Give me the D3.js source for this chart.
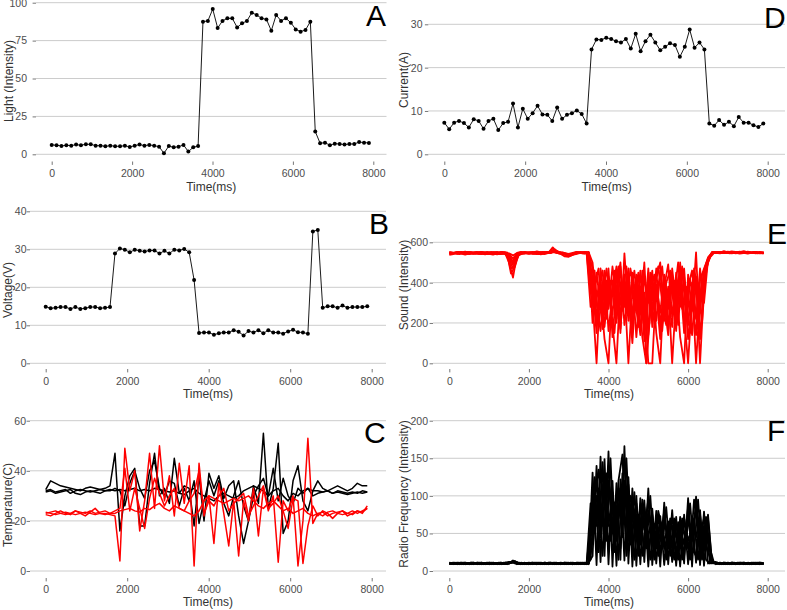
<!DOCTYPE html>
<html><head><meta charset="utf-8">
<script src="https://cdn.jsdelivr.net/npm/d3@7"></script>
<style>body{margin:0;background:#fff}svg{display:block}</style>
</head><body><svg id="c" width="787" height="610"></svg>
<script>
// ---------- DATA ----------
const timeMs = [0,121,243,364,486,607,728,850,971,1093,1214,1335,1457,1578,1700,1821,1942,2064,2185,2307,2428,2549,2671,2792,2914,3035,3156,3278,3399,3521,3642,3763,3885,4006,4128,4249,4370,4492,4613,4735,4856,4977,5099,5220,5342,5463,5584,5706,5827,5949,6070,6191,6313,6434,6556,6677,6798,6920,7041,7163,7284,7405,7527,7648,7770,7891];
const timeFine = [0,100,200,300,400,500,600,700,800,900,1000,1100,1200,1300,1400,1500,1600,1700,1800,1900,2000,2100,2200,2300,2400,2500,2600,2700,2800,2900,3000,3100,3200,3300,3400,3500,3600,3700,3800,3900,4000,4100,4200,4300,4400,4500,4600,4700,4800,4900,5000,5100,5200,5300,5400,5500,5600,5700,5800,5900,6000,6100,6200,6300,6400,6500,6600,6700,6800,6900,7000,7100,7200,7300,7400,7500,7600,7700,7800,7900];
const timeFineB = [50,150,250,350,450,550,650,750,850,950,1050,1150,1250,1350,1450,1550,1650,1750,1850,1950,2050,2150,2250,2350,2450,2550,2650,2750,2850,2950,3050,3150,3250,3350,3450,3550,3650,3750,3850,3950,4050,4150,4250,4350,4450,4550,4650,4750,4850,4950,5050,5150,5250,5350,5450,5550,5650,5750,5850,5950,6050,6150,6250,6350,6450,6550,6650,6750,6850,6950,7050,7150,7250,7350,7450,7550,7650,7750,7850];

const lightA = [6.2,6,5.5,6,5.7,6.4,6,6.6,6.6,5.7,5.7,5.3,5.7,5.3,5.3,5.7,4.8,5.7,6.4,5.7,6.2,5.7,5,0.7,5.5,4.6,5,6.2,1.8,4.6,5.5,87.5,88,95.8,83.3,88,89.7,89.7,83.7,86.4,88,93.4,91.9,89.7,89,81.5,91.9,88,89.7,86.8,82.4,80.9,82,87.5,15,7.3,7.7,6,7,6.8,6.4,6.8,6.8,8.1,7.7,7.5];
const voltageB = [14.9,14.5,14.6,14.8,14.8,14.3,14.8,14.3,14.5,14.8,14.8,14.5,14.6,14.8,28.9,30.2,29.9,29.2,29.9,29.6,29.4,29.7,29.7,28.9,29.6,28.9,29.9,29.7,30.1,29.2,21.9,8.0,8.1,8.1,7.5,7.9,8.1,8.1,8.7,8.3,7.3,8.5,8.1,8.7,7.9,8.7,8.1,8.1,7.8,8.4,8.8,8.2,8.1,7.8,34.7,35.1,14.6,15,15,14.6,15.2,14.6,14.8,14.8,14.8,15];
const currentD = [7.3,5.8,7.3,7.7,7.2,6.2,8.1,7.7,5.9,7.7,8.2,5.6,7.2,7.5,11.7,6.2,10.5,8.2,9.5,11.2,9.2,9.1,7.7,10.8,8.2,9.1,9.5,10.1,9.3,7.1,24.2,26.5,26.4,26.9,26.6,26.1,25.8,26.6,24.4,27.8,23.8,26.1,27.6,25.8,24,24.8,25.6,25.2,22.5,24.8,28.8,24.6,25.8,24.2,7.1,6.6,7.9,6.8,7.5,6.5,8.6,7.3,7.3,6.7,6.3,7.1];

const tempBlack1 = [32,32.5,31.5,32,32.5,31,32,32.5,32,31.5,32,32.5,32,32.5,32,32.5,32,32.5,33,32,32.5,32,33,32.5,32,31.5,32,31,30.5,32,33,31,30,29,28,30,31,30,29,30,32,33,34,33,32,30,32,33,30,28,31,30,32,33,32,32,31.5,32,31,32,31.5,31,31.5,31,32,31.5];
const tempBlack2 = [32.5,36,35,34,33.5,33,32.5,32,33,33.5,33,32.5,33,34,47,16,30,38,41,18,18,35,47,30,33,27,45,31,34,33,18,38,20,39,33,38,29,34,36,22,11,20,34,27,55,25,33,51,15,20,36,42,28,24,32,36,33,32,33,34,33,32,33,35,34,34];
const tempBlack3 = [31.5,32,31,31.5,32,32.5,31,30.5,31.5,32,31.5,31,32,32,33,32,26,35,40,33,29,40,44,33,30,36,35,26,33,28,36,19,28,36,30,36,27,22,30,36,26,20,30,34,37,30,41,28,37,30,27,33,31,33,30,31,31.5,32,31,31.5,31,30.5,31,31.5,31,31.5];
const tempRed1 = [23.5,23,22.5,23,23.5,23,22.5,23,23.5,23,22.5,23,23,22.5,22,4,49,32,40,16,28,47,25,50,28,38,22,43,27,42,2,43,22,30,11,35,23,10,28,6,28,20,33,14,33,24,30,3.5,28,24,30,2,20,53,19,23,23.5,22,23,23.5,24,23,22.5,24,23.5,25];
const tempRed2 = [23,23.5,24,23,22.5,23,24,23.5,23,24,23,23.5,24,23,23,24,24.5,25,24,23.5,25,24.5,26,27,25,24,26,25,24,23,22,24,28,30,29,28,27,28,29,28,29,30,28,26,25,27,28,26,24,25,23,24,25,23,22,23,22,23.5,24,23,22.5,23,24,23,24,25];
const tempRed3 = [22.5,22,23,24,23,22.5,24,23,22,23.5,25,23,22.5,23,24,25,41,24,33,25,17,29,37,31,26,30,33,25,24,28,31,40,23,28,26,30,33,24,27,29,31,22,26,30,34,25,27,30,24,17,29,28,3,18,26,22,24,23,21,23,24,22,23,24,23,26];

const sound1 = [545,548,543,550,546,541,547,552,545,540,546,549,544,542,547,500,425,538,545,550,546,543,548,551,547,553,558,549,545,541,538,544,550,547,545,552,310,0,420,180,390,240,460,150,545,260,410,130,380,220,470,180,350,120,430,270,390,160,500,240,0,330,140,410,470,520,548,552,549,556,550,547,553,549,551,546,548,552,545,547];
const sound2 = [538,542,547,544,539,545,550,546,541,548,543,539,545,550,546,520,470,530,541,546,549,552,545,540,547,550,575,552,546,543,535,540,546,549,544,547,470,230,350,120,0,410,200,480,280,440,170,400,250,500,140,380,210,460,300,140,440,220,380,470,190,400,0,330,450,510,545,549,553,547,551,555,548,544,550,553,547,551,549,544];
const sound3 = [550,546,552,548,544,549,543,547,553,549,545,551,547,543,549,535,505,545,550,547,543,549,553,548,544,549,556,547,543,530,528,545,551,547,550,546,200,450,280,460,160,350,480,230,390,0,360,250,460,110,420,260,470,180,380,490,230,410,130,0,440,260,550,120,420,500,550,546,552,548,553,549,545,551,556,550,546,549,552,548];
const sound4 = [542,547,551,545,549,553,548,544,550,546,542,548,552,546,541,530,490,535,548,544,550,546,541,547,552,548,560,553,549,545,540,537,543,548,552,549,380,150,470,300,430,190,0,400,320,470,210,440,160,350,0,0,390,250,440,170,470,290,420,150,380,460,220,470,300,515,547,551,547,553,549,545,550,554,548,552,547,550,546,551];
const sound5 = [547,543,549,553,547,542,546,551,547,543,549,545,540,546,551,540,520,543,549,553,547,544,550,546,542,548,551,547,542,538,533,541,547,552,548,551,500,300,160,410,270,480,330,170,440,210,450,310,140,430,300,460,150,0,420,330,180,450,280,430,120,290,430,0,380,505,552,548,545,550,554,549,546,552,548,544,549,553,547,550];
const sound6 = [552,549,545,550,554,548,544,549,553,550,546,542,548,553,549,545,535,547,552,548,544,549,555,550,546,551,562,556,550,546,543,548,553,549,546,550,420,190,400,240,470,130,370,500,190,350,100,420,300,180,400,230,420,500,210,380,0,340,470,200,360,140,410,250,460,525,549,553,550,546,551,548,552,547,550,554,549,545,550,547];
const sound7 = [544,549,553,547,542,548,551,546,543,549,552,547,541,546,550,470,490,541,547,551,548,543,549,552,546,550,565,551,544,539,536,542,548,551,546,350,460,200,330,470,280,150,430,350,480,210,320,450,130,0,340,440,280,160,400,460,260,330,480,210,420,300,170,440,480,530,550,547,552,549,545,551,548,553,549,546,550,548,546];
const sound8 = [549,545,541,548,553,546,543,550,547,541,546,551,548,543,547,445,480,546,550,545,549,553,547,543,550,546,557,548,550,541,532,546,550,545,549,280,390,470,170,410,300,460,220,390,250,470,360,180,460,0,250,380,480,300,190,420,330,500,270,380,240,460,380,200,470,525,547,551,548,553,550,546,550,552,547,551,549,545,549];
const sound9 = [541,547,550,544,548,552,545,541,547,552,548,543,549,552,545,510,500,540,544,548,551,546,542,548,553,549,561,550,547,542,537,543,547,549,551,430,250,380,460,220,410,360,480,260,400,330,460,250,410,190,450,300,390,480,240,350,410,190,460,330,150,470,260,380,490,535,552,548,551,547,550,554,549,545,551,548,552,547,550];

const radio1 = [10,9,10,11,10,9,10,10,11,10,9,10,10,11,10,11,13,11,10,10,9,10,11,10,10,9,10,10,11,10,9,10,10,11,10,9,131,8,152,20,159,6,117,15,166,10,110,7,97,12,110,8,80,6,91,9,81,7,72,10,97,6,99,8,79,10,12,11,10,10,11,10,9,10,11,10,10,9,10,10];
const radio2 = [9,10,11,10,9,10,11,10,9,10,11,10,9,10,11,12,12,10,9,10,11,10,9,10,11,10,9,10,10,11,10,9,11,10,10,11,20,140,12,149,9,120,7,122,14,125,6,100,9,94,6,83,10,73,8,66,12,72,6,75,9,68,11,81,7,75,11,12,10,11,10,9,10,11,10,9,10,11,10,9];
const radio3 = [11,10,9,10,11,10,9,11,10,10,9,11,10,9,10,10,14,11,10,9,10,11,10,9,10,11,10,9,10,11,10,10,9,10,11,10,110,60,130,90,140,50,100,70,150,60,95,40,85,55,95,35,70,40,80,30,70,45,60,35,85,40,90,50,70,45,13,10,11,10,9,11,10,10,11,10,9,10,11,10];
const radio4 = [10,11,10,9,10,10,11,10,9,10,10,11,9,10,10,11,12,10,10,11,9,10,10,11,10,9,11,10,10,9,10,11,10,9,10,10,70,120,45,130,60,105,40,110,80,115,50,90,35,85,45,75,30,65,40,60,35,65,30,70,40,60,45,75,30,70,11,10,10,9,10,11,10,9,10,10,11,10,9,10];
const radio5 = [9,10,10,11,9,10,10,9,11,10,10,9,10,11,9,10,11,9,11,10,10,9,10,10,9,11,10,10,9,10,11,9,10,10,9,10,40,100,90,60,120,80,60,95,120,40,85,60,70,30,80,55,50,60,30,50,60,25,55,50,30,55,80,25,60,40,12,9,10,11,10,10,9,11,10,10,9,10,11,10];
const radio6 = [10,10,9,10,11,9,10,11,10,9,11,10,10,9,11,10,13,10,9,10,10,11,9,10,11,10,10,11,9,10,10,9,11,10,10,11,90,30,60,115,30,95,85,30,100,95,30,75,50,70,25,65,60,25,70,45,20,60,45,20,70,30,20,65,50,25,10,11,9,10,10,11,10,10,9,11,10,10,9,10];
const radio7 = [10,11,9,10,10,11,10,9,10,11,10,10,9,11,10,12,13,10,10,9,11,10,10,9,10,11,10,9,10,10,11,10,9,10,10,60,125,25,145,40,150,30,110,45,150,35,105,25,90,30,100,20,75,30,85,20,70,25,65,40,90,25,95,20,72,30,11,10,10,11,9,10,10,11,10,9,10,10,11];
const radio8 = [9,10,10,11,10,9,10,11,10,10,9,10,11,10,9,11,12,10,9,10,10,11,10,10,9,10,11,10,10,9,10,10,11,10,9,15,100,135,60,130,90,25,120,155,30,100,80,20,95,60,70,15,80,55,20,70,40,15,70,55,20,95,60,15,60,12,10,11,9,10,10,11,10,10,9,10,11,10,10];
const radio9 = [10,10,11,9,10,11,10,10,9,10,11,10,10,9,10,11,13,11,10,10,9,10,11,10,10,11,9,10,10,11,10,9,10,11,10,90,50,110,20,100,40,90,15,130,20,85,15,75,20,70,15,60,20,65,15,55,15,65,15,50,15,70,15,60,15,10,11,10,10,9,10,10,11,10,10,9,10,11,10];

const xTicks = [0, 2000, 4000, 6000, 8000];
const xTitle = "Time(ms)";

// ---------- PANELS ----------
const soundSeries = [[timeFine,sound1],[timeFine,sound2],[timeFine,sound3],[timeFine,sound4],[timeFine,sound5],[timeFine,sound6],[timeFineB,sound7],[timeFineB,sound8],[timeFineB,sound9]];
const radioSeries = [[timeFine,radio1],[timeFine,radio2],[timeFine,radio3],[timeFine,radio4],[timeFine,radio5],[timeFine,radio6],[timeFineB,radio7],[timeFineB,radio8],[timeFineB,radio9]];

const panels = [
  {letter:"A", yLabel:"Light (Intensity)", yTicks:[0,25,50,75,100], kind:"dots",
   series:[{t:timeMs, v:lightA, c:"#000"}],
   L:{x:[51.7,373.3], y:[154.3,2.7], grid:[36,386.5], labEnd:27, axisY:161.5, labB:176.5, titB:191, yT:[9,81], let:[366,26]}},
  {letter:"B", yLabel:"Voltage(V)", yTicks:[0,10,20,30,40], kind:"dots",
   series:[{t:timeMs, v:voltageB, c:"#000"}],
   L:{x:[45.7,371.7], y:[363.3,211.3], grid:[30,386], labEnd:26.5, axisY:369, labB:385, titB:397.5, yT:[8,290], let:[369,234]}},
  {letter:"C", yLabel:"Temperature(C)", yTicks:[0,20,40,60], kind:"lines", sw:1.5,
   series:[{t:timeMs,v:tempBlack1,c:"#000"},{t:timeMs,v:tempBlack2,c:"#000"},{t:timeMs,v:tempBlack3,c:"#000"},
           {t:timeMs,v:tempRed1,c:"#ff0000"},{t:timeMs,v:tempRed2,c:"#ff0000"},{t:timeMs,v:tempRed3,c:"#ff0000"}],
   L:{x:[45.7,371.7], y:[571,420.7], grid:[30,386], labEnd:26, axisY:578, labB:593, titB:605.5, yT:[8,505], let:[364,443]}},
  {letter:"D", yLabel:"Current(A)", yTicks:[0,10,20,30], kind:"dots",
   series:[{t:timeMs, v:currentD, c:"#000"}],
   L:{x:[444.3,767.7], y:[154.3,24.3], grid:[428.3,785], labEnd:422.5, axisY:161.5, labB:176.5, titB:191, yT:[403.5,80], let:[764,28]}},
  {letter:"E", yLabel:"Sound (Intensity)", yTicks:[0,200,400,600], kind:"lines", sw:1.8,
   series:soundSeries.map(s=>({t:s[0], v:s[1], c:"#ff0000"})),
   L:{x:[449.3,767.7], y:[363.3,242.3], grid:[433,785], labEnd:428, axisY:369, labB:385, titB:397.5, yT:[403.5,285], let:[767,244]}},
  {letter:"F", yLabel:"Radio Frequency (Intensity)", yTicks:[0,50,100,150,200], kind:"lines", sw:1.8,
   series:radioSeries.map(s=>({t:s[0], v:s[1], c:"#000"})),
   L:{x:[449.3,767.7], y:[571,420.7], grid:[433,785], labEnd:428, axisY:578, labB:593, titB:605.5, yT:[403.5,494], let:[767,441]}}
];

const FONT = "'Liberation Sans', Arial, Helvetica, sans-serif";
const svg = d3.select("#c");

panels.forEach(p => {
  const L = p.L;
  const xs = d3.scaleLinear().domain([0, 8000]).range(L.x);
  const ys = d3.scaleLinear().domain([0, p.yTicks[p.yTicks.length-1]]).range(L.y);
  const g = svg.append("g");

  // grid lines
  g.append("g").selectAll("line").data(p.yTicks).join("line")
    .attr("x1", L.grid[0]).attr("x2", L.grid[1])
    .attr("y1", d => ys(d)).attr("y2", d => ys(d))
    .attr("stroke", "#cccccc").attr("stroke-width", 1);

  // y axis
  const tickLen = 3.4;
  const ya = g.append("g").attr("transform", `translate(${L.grid[0]},0)`)
    .call(d3.axisLeft(ys).tickValues(p.yTicks).tickSize(tickLen).tickPadding(L.grid[0] - L.labEnd - tickLen));
  ya.select(".domain").remove();
  ya.selectAll("line").attr("stroke", "#666").attr("stroke-width", 0.9);
  ya.selectAll("text").attr("fill", "#4d4d4d").style("font-family", FONT).style("font-size", "10.5px");

  // x axis
  const xa = g.append("g").attr("transform", `translate(0,${L.axisY})`)
    .call(d3.axisBottom(xs).tickValues(xTicks).tickSize(tickLen).tickFormat(d3.format("d")));
  xa.select(".domain").remove();
  xa.selectAll("line").attr("stroke", "#666").attr("stroke-width", 0.9);
  xa.selectAll("text").attr("fill", "#4d4d4d").style("font-family", FONT).style("font-size", "10.5px")
    .attr("y", L.labB - L.axisY).attr("dy", 0);

  // titles
  g.append("text").attr("x", (L.grid[0] + L.grid[1]) / 2).attr("y", L.titB)
    .attr("text-anchor", "middle").attr("fill", "#333")
    .style("font-family", FONT).style("font-size", "12px").text(xTitle);
  g.append("text").attr("transform", `translate(${L.yT[0]},${L.yT[1]}) rotate(-90)`)
    .attr("text-anchor", "middle").attr("dy", "0.35em").attr("fill", "#333")
    .style("font-family", FONT).style("font-size", "12px").text(p.yLabel);

  // data
  const line = d3.line().x(d => xs(d[0])).y(d => ys(d[1]));
  p.series.forEach(s => {
    const pts = d3.zip(s.t, s.v);
    g.append("path").datum(pts).attr("d", line)
      .attr("fill", "none").attr("stroke", s.c)
      .attr("stroke-width", p.kind === "dots" ? 0.9 : p.sw)
      .attr("stroke-linejoin", "round");
    if (p.kind === "dots") {
      g.append("g").selectAll("circle").data(pts).join("circle")
        .attr("cx", d => xs(d[0])).attr("cy", d => ys(d[1])).attr("r", 2).attr("fill", s.c);
    }
  });

  // panel letter
  g.append("text").attr("x", L.let[0]).attr("y", L.let[1])
    .attr("fill", "#000").style("font-family", FONT).style("font-size", "30px").text(p.letter);
});
</script>
</body></html>
